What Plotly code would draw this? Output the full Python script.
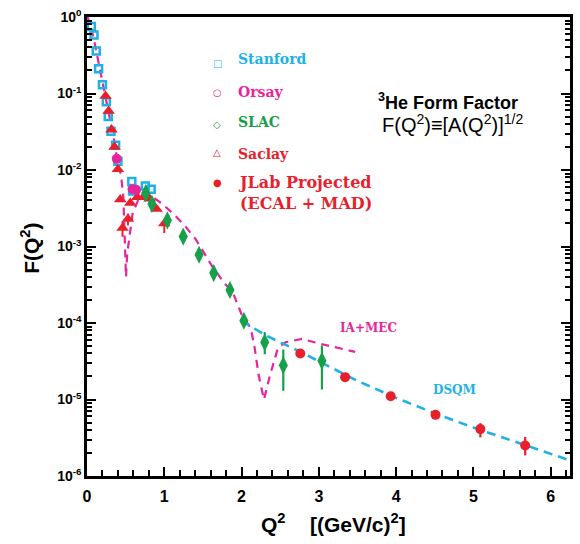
import plotly.graph_objects as go

# ---------------- data ----------------
stanford_x = [0.056, 0.09, 0.12, 0.15, 0.20, 0.25, 0.275, 0.31, 0.37, 0.40, 0.58, 0.59, 0.755, 0.83]
stanford_y = [0.75, 0.58, 0.36, 0.21, 0.13, 0.078, 0.050, 0.032, 0.021, 0.013, 0.0071, 0.0053, 0.0062, 0.0056]

orsay_x = [0.385, 0.59, 0.635]
orsay_y = [0.014, 0.0056, 0.0055]

slac_x = [0.76, 0.84, 1.04, 1.245, 1.45, 1.64, 1.85, 2.03, 2.30, 2.54, 3.04]
slac_y = [5.0e-3, 3.6e-3, 2.2e-3, 1.35e-3, 7.8e-4, 4.5e-4, 2.7e-4, 1.07e-4, 5.6e-5, 2.8e-5, 3.2e-5]
slac_err_up = [0, 0, 0, 0, 0, 0, 0, 1.3e-5, 2.0e-5, 1.7e-5, 1.9e-5]
slac_err_dn = [0, 0, 0, 0, 0, 0, 0, 1.2e-5, 1.7e-5, 1.5e-5, 1.85e-5]

saclay_x = [0.24, 0.28, 0.317, 0.356, 0.40, 0.43, 0.46, 0.53, 0.56, 0.65, 0.73, 0.81, 0.90, 1.0]
saclay_y = [0.093, 0.059, 0.0335, 0.020, 0.0102, 0.0041, 0.00174, 0.00229, 0.0037, 0.0044, 0.0044, 0.0042, 0.0031, 0.0020]
saclay_err_up = [0, 0, 0, 0, 0, 0, 4e-4, 4e-4, 0, 0, 0, 0, 0, 3e-4]
saclay_err_dn = [0, 0, 0, 0, 0, 0, 4e-4, 4e-4, 0, 0, 0, 0, 0, 5e-4]

jlab_x = [2.76, 3.34, 3.93, 4.51, 5.09, 5.67]
jlab_y = [4.0e-5, 1.96e-5, 1.1e-5, 6.3e-6, 4.1e-6, 2.5e-6]
jlab_err_up = [0, 0, 0, 6e-7, 8e-7, 7.4e-7]
jlab_err_dn = [0, 0, 0, 5.5e-7, 9e-7, 6.4e-7]

iamec_x = [0.0, 0.05, 0.1, 0.15, 0.2, 0.25, 0.3, 0.35, 0.4, 0.44, 0.47, 0.49, 0.505, 0.52,
           0.55, 0.59, 0.66, 0.72, 0.8, 0.89, 0.96, 1.13, 1.26, 1.41, 1.62, 1.79, 1.88, 2.0,
           2.12, 2.17, 2.22, 2.29, 2.37, 2.47, 2.57, 2.78, 3.0, 3.47]
iamec_y = [1.05, 0.75, 0.45, 0.25, 0.15, 0.085, 0.047, 0.025, 0.012, 0.0087, 0.0045, 0.0015,
           0.0004, 0.0008, 0.00135, 0.0027, 0.0040, 0.0048, 0.0048, 0.0042, 0.0037, 0.0026,
           0.0019, 0.00123, 0.00055, 0.00032, 0.00026, 0.00013, 8.5e-5, 4.7e-5, 2.1e-5,
           1.0e-5, 2.1e-5, 4.7e-5, 5.6e-5, 6.2e-5, 5.4e-5, 4.2e-5]

dsqm_x = [2.0, 2.31, 2.74, 3.17, 3.5, 4.0, 4.5, 5.0, 5.5, 6.0, 6.25]
dsqm_y = [1.07e-4, 6.9e-5, 4.3e-5, 2.6e-5, 1.75e-5, 1.05e-5, 6.6e-6, 4.3e-6, 2.9e-6, 1.95e-6, 1.6e-6]

x_tickvals = [0, 1, 2, 3, 4, 5, 6]
y_tickvals = [1e-6, 1e-5, 1e-4, 1e-3, 1e-2, 1e-1, 1]
y_ticktext = ["10<sup>-6</sup>", "10<sup>-5</sup>", "10<sup>-4</sup>", "10<sup>-3</sup>",
              "10<sup>-2</sup>", "10<sup>-1</sup>", "10<sup>0</sup>"]

legend_names = ["Stanford", "Orsay", "SLAC", "Saclay", "JLab Projected<br>(ECAL + MAD)"]
legend_symbols = ["□", "○", "◇", "△", "●"]

CYAN = "#1eb1e6"
MAGENTA = "#e6259b"
GREEN = "#16a04a"
RED = "#e8202c"

legend_colors = [CYAN, MAGENTA, GREEN, RED, RED]

# ---------------- figure ----------------
fig = go.Figure()

fig.add_trace(go.Scatter(x=iamec_x, y=iamec_y, mode="lines",
                         line=dict(color=MAGENTA, width=2.2, dash="8px,6px")))
fig.add_trace(go.Scatter(x=dsqm_x, y=dsqm_y, mode="lines",
                         line=dict(color=CYAN, width=2.6, dash="9px,6px")))

fig.add_trace(go.Scatter(x=stanford_x, y=stanford_y, mode="markers",
                         marker=dict(symbol="square-open", size=7, color=CYAN,
                                     line=dict(width=2.5, color=CYAN))))
fig.add_trace(go.Scatter(x=saclay_x, y=saclay_y, mode="markers",
                         error_y=dict(type="data", symmetric=False, array=saclay_err_up,
                                      arrayminus=saclay_err_dn, color=RED, thickness=2, width=0),
                         marker=dict(symbol="triangle-up", size=11, color=RED)))
fig.add_trace(go.Scatter(x=orsay_x, y=orsay_y, mode="markers",
                         marker=dict(symbol="circle", size=10, color=MAGENTA)))
fig.add_trace(go.Scatter(x=slac_x, y=slac_y, mode="markers",
                         error_y=dict(type="data", symmetric=False, array=slac_err_up,
                                      arrayminus=slac_err_dn, color=GREEN, thickness=2.2, width=0),
                         marker=dict(symbol="diamond-tall", size=13, color=GREEN)))
fig.add_trace(go.Scatter(x=jlab_x, y=jlab_y, mode="markers",
                         error_y=dict(type="data", symmetric=False, array=jlab_err_up,
                                      arrayminus=jlab_err_dn, color=RED, thickness=2.2, width=0),
                         marker=dict(symbol="circle", size=10, color=RED)))

# plot area in pixels
L, R, T, B = 87, 7, 10, 68
W, H = 580, 544
pw, ph = W - L - R, H - T - B


def px(xp):
    return (xp - L) / pw


def py(yp):
    return (H - B - yp) / ph


ann = []
# legend
leg_sym_y = [57, 87, 119, 148, 178]
leg_txt_y = [53, 86, 117, 149, 189]
leg_txt_size = [14, 14, 14, 14, 16]
for name, sym, col, sy, ty, fs in zip(legend_names, legend_symbols, legend_colors,
                                      leg_sym_y, leg_txt_y, leg_txt_size):
    ann.append(dict(x=px(218), y=py(sy), xref="paper", yref="paper", text=sym,
                    showarrow=False, xanchor="center", yanchor="middle",
                    font=dict(family="DejaVu Sans", size=10, color=col)))
    ann.append(dict(x=px(237), y=py(ty), xref="paper", yref="paper", text=name,
                    showarrow=False, xanchor="left", yanchor="middle", align="left",
                    font=dict(family="DejaVu Serif", size=fs, color=col, weight="bold")))

ann.append(dict(x=px(378), y=py(96), xref="paper", yref="paper",
                text="<sup>3</sup>He Form Factor", showarrow=False, xanchor="left",
                yanchor="middle",
                font=dict(family="Liberation Sans Narrow, Arial", size=18, color="black",
                          weight="bold")))
ann.append(dict(x=px(382), y=py(118), xref="paper", yref="paper",
                text="F(Q<sup>2</sup>)≡[A(Q<sup>2</sup>)]<sup>1/2</sup>", showarrow=False,
                xanchor="left", yanchor="middle",
                font=dict(family="Liberation Sans Narrow, Arial", size=20, color="black")))
ann.append(dict(x=px(340), y=py(326), xref="paper", yref="paper", text="IA+MEC",
                showarrow=False, xanchor="left", yanchor="middle",
                font=dict(family="DejaVu Serif", size=12, color=MAGENTA, weight="bold")))
ann.append(dict(x=px(433), y=py(389), xref="paper", yref="paper", text="DSQM",
                showarrow=False, xanchor="left", yanchor="middle",
                font=dict(family="DejaVu Serif", size=12, color=CYAN, weight="bold")))
# axis titles
ann.append(dict(x=px(30), y=py(245), xref="paper", yref="paper",
                text="F(Q<sup>2</sup>)", showarrow=False, textangle=-90,
                xanchor="center", yanchor="middle",
                font=dict(family="Arial", size=21, color="black", weight="bold")))
ann.append(dict(x=px(275), y=py(524), xref="paper", yref="paper",
                text="Q<sup>2</sup>", showarrow=False,
                xanchor="center", yanchor="middle",
                font=dict(family="Arial", size=21, color="black", weight="bold")))
ann.append(dict(x=px(360), y=py(524), xref="paper", yref="paper",
                text="[(GeV/c)<sup>2</sup>]", showarrow=False,
                xanchor="center", yanchor="middle",
                font=dict(family="Arial", size=21, color="black", weight="bold")))

axis_common = dict(showline=True, linecolor="black", linewidth=2.5, ticks="inside",
                   tickcolor="black", tickwidth=2, showgrid=False, zeroline=False)

fig.update_xaxes(range=[0, 6.25], tickvals=x_tickvals, ticklen=9, mirror=True,
                 tickfont=dict(family="Arial", size=16, color="black", weight="bold"),
                 ticklabelstandoff=4,
                 minor=dict(ticks="inside", dtick=0.2, ticklen=6, tickwidth=2,
                            tickcolor="black", showgrid=False),
                 **axis_common)
fig.update_yaxes(type="log", range=[-6, 0], tickvals=y_tickvals, ticktext=y_ticktext,
                 ticklen=9, mirror="ticks",
                 tickfont=dict(family="Arial", size=14, color="black", weight="bold"),
                 minor=dict(ticks="inside", dtick="D1", ticklen=5, tickwidth=1.5,
                            tickcolor="black", showgrid=False),
                 **axis_common)

fig.update_layout(width=W, height=H, margin=dict(l=L, r=R, t=T, b=B),
                  paper_bgcolor="white", plot_bgcolor="white", showlegend=False,
                  annotations=ann)

fig.write_html("out.html", config={"displayModeBar": False},
               post_script="document.body.style.margin='0';document.body.style.padding='0';")
